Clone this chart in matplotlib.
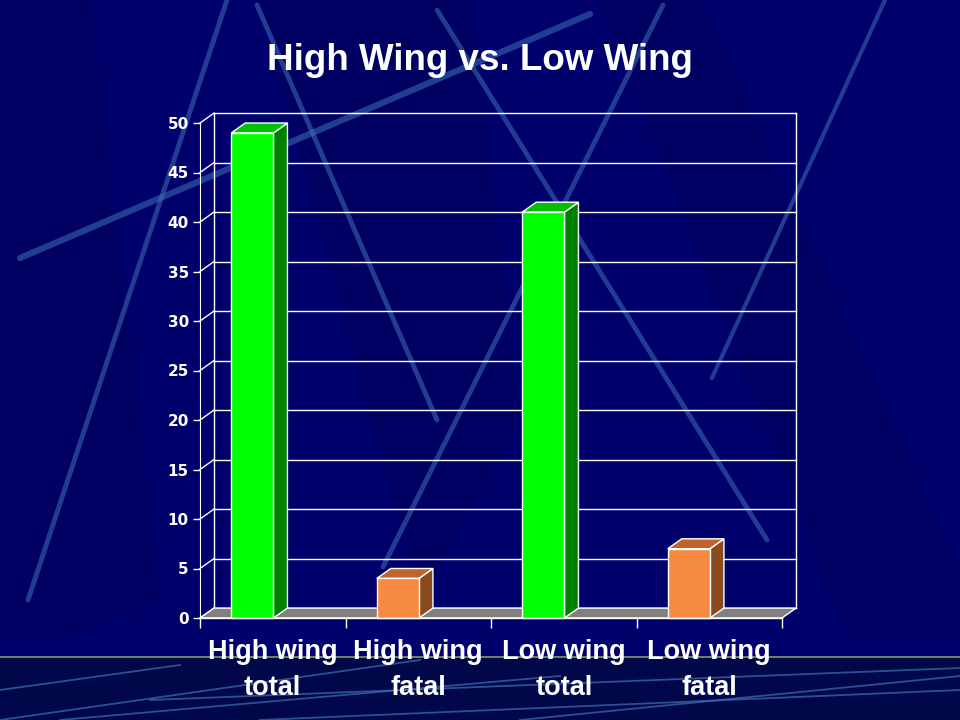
import matplotlib
matplotlib.use('Agg')
import matplotlib.pyplot as plt
from matplotlib.patches import Polygon, Rectangle
from matplotlib.lines import Line2D

plt.rcParams['font.family'] = ['Liberation Sans', 'DejaVu Sans']

# 数据
categories = ['High wing\ntotal', 'High wing\nfatal', 'Low wing\ntotal', 'Low wing\nfatal']
values = [49, 4, 41, 7]
front_colors = ['#00FF00', '#F68A42', '#00FF00', '#F68A42']
side_colors = ['#008000', '#8A4A20', '#008000', '#8A4A20']
top_colors = ['#00C000', '#C0642C', '#00C000', '#C0642C']
y_ticks = [0, 5, 10, 15, 20, 25, 30, 35, 40, 45, 50]

bg = '#00006C'
fig = plt.figure(figsize=(9.6, 7.2), dpi=100, facecolor=bg)

# 背景装饰：暗色块、底部色带和斜线 (都放在坐标轴下面)
dark_shapes = [[(0, 0), (90, 0), (160, 600), (60, 640), (0, 640)],
               [(260, 0), (470, 0), (520, 420), (420, 600)],
               [(600, 0), (700, 0), (990, 640), (850, 640)]]
for pts in dark_shapes:
    fig.add_artist(Polygon([(x / 960, 1 - y / 720) for x, y in pts], closed=True,
                           transform=fig.transFigure, facecolor='#000050',
                           alpha=0.3, lw=0, zorder=0.2))
fig.add_artist(Rectangle((0, 0), 1, 63 / 720, transform=fig.transFigure,
                         color='#00084A', zorder=0.3))
fig.add_artist(Line2D([0, 1], [63 / 720, 63 / 720], transform=fig.transFigure,
                      color='#7E9E6A', lw=1.2, zorder=0.5))
streaks = [((20, 258), (590, 14), 4.5),
           ((227, 0), (28, 600), 3.5),
           ((257, 5), (437, 420), 3.5),
           ((437, 10), (767, 540), 3.5),
           ((663, 5), (383, 567), 3.5),
           ((885, 0), (712, 378), 3)]
for (x0, y0), (x1, y1), w in streaks:
    fig.add_artist(Line2D([x0 / 960, x1 / 960], [1 - y0 / 720, 1 - y1 / 720],
                          transform=fig.transFigure, color='#3E70B4',
                          alpha=0.55, lw=w, solid_capstyle='round', zorder=0.5))
bottom_streaks = [((0, 720), (420, 660)), ((60, 720), (560, 676)),
                  ((150, 700), (960, 668)), ((260, 720), (960, 690)),
                  ((520, 720), (960, 676)), ((0, 690), (180, 665))]
for (x0, y0), (x1, y1) in bottom_streaks:
    fig.add_artist(Line2D([x0 / 960, x1 / 960], [1 - y0 / 720, 1 - y1 / 720],
                          transform=fig.transFigure, color='#3E70B4',
                          alpha=0.7, lw=1.3, zorder=0.5))

fig.text(0.5, 1 - 61 / 720, 'High Wing vs. Low Wing', color='white',
         fontsize=26.5, fontweight='bold', ha='center', va='center', zorder=2)

ax = fig.add_axes([200 / 960, 102 / 720, 582 / 960, 495 / 720])
ax.set_zorder(1)
ax.set_facecolor('none')
ax.set_xlim(0, 4)
ax.set_ylim(0, 50)

dx = 0.096   # 深度偏移 (x)
dy = 1.0     # 深度偏移 (y)
n = len(categories)

# 背景墙网格线
for v in y_ticks:
    ax.plot([dx, n + dx], [v + dy, v + dy], color='white', lw=1, clip_on=False, zorder=1)
    ax.plot([0, dx], [v, v + dy], color='white', lw=1, clip_on=False, zorder=1)
ax.plot([dx, dx], [dy, 50 + dy], color='white', lw=1, clip_on=False, zorder=1)
ax.plot([n + dx, n + dx], [dy, 50 + dy], color='white', lw=1, clip_on=False, zorder=1)

# 底面
ax.add_patch(Polygon([(0, 0), (n, 0), (n + dx, dy), (dx, dy)], closed=True,
                     facecolor='#808080', edgecolor='white', lw=1, clip_on=False, zorder=2))

# 柱子
w = 0.29
xs = [i + 0.36 for i in range(n)]
ax.bar(xs, values, width=w, color=front_colors, edgecolor='white', lw=1,
       clip_on=False, zorder=4)
for x, v, sc, tc in zip(xs, values, side_colors, top_colors):
    r = x + w / 2
    l = x - w / 2
    ax.add_patch(Polygon([(r, 0), (r + dx, dy), (r + dx, v + dy), (r, v)], closed=True,
                         facecolor=sc, edgecolor='white', lw=1, clip_on=False, zorder=3))
    ax.add_patch(Polygon([(l, v), (l + dx, v + dy), (r + dx, v + dy), (r, v)], closed=True,
                         facecolor=tc, edgecolor='white', lw=1, clip_on=False, zorder=3))

# 坐标轴
for s in ['top', 'right', 'bottom']:
    ax.spines[s].set_visible(False)
ax.spines['left'].set_color('white')
ax.spines['left'].set_zorder(5)
ax.set_yticks(y_ticks)
ax.tick_params(axis='y', colors='white', length=5, width=1, pad=3, labelsize=11)
for lab in ax.get_yticklabels():
    lab.set_fontweight('bold')
    lab.set_family(['DejaVu Sans'])

ax.set_xticks(range(n + 1))
ax.set_xticklabels([])
ax.tick_params(axis='x', which='major', colors='white', length=7, width=1)
ax.set_xticks([i + 0.5 for i in range(n)], categories, minor=True)
ax.tick_params(axis='x', which='minor', length=0, pad=15, labelsize=19.5,
               labelcolor='white')
for lab in ax.get_xticklabels(minor=True):
    lab.set_fontweight('bold')
    lab.set_linespacing(1.5)
ax.plot([0, n], [0, 0], color='white', lw=1, clip_on=False, zorder=5)

fig.savefig('out.png', dpi=100, facecolor=bg)
